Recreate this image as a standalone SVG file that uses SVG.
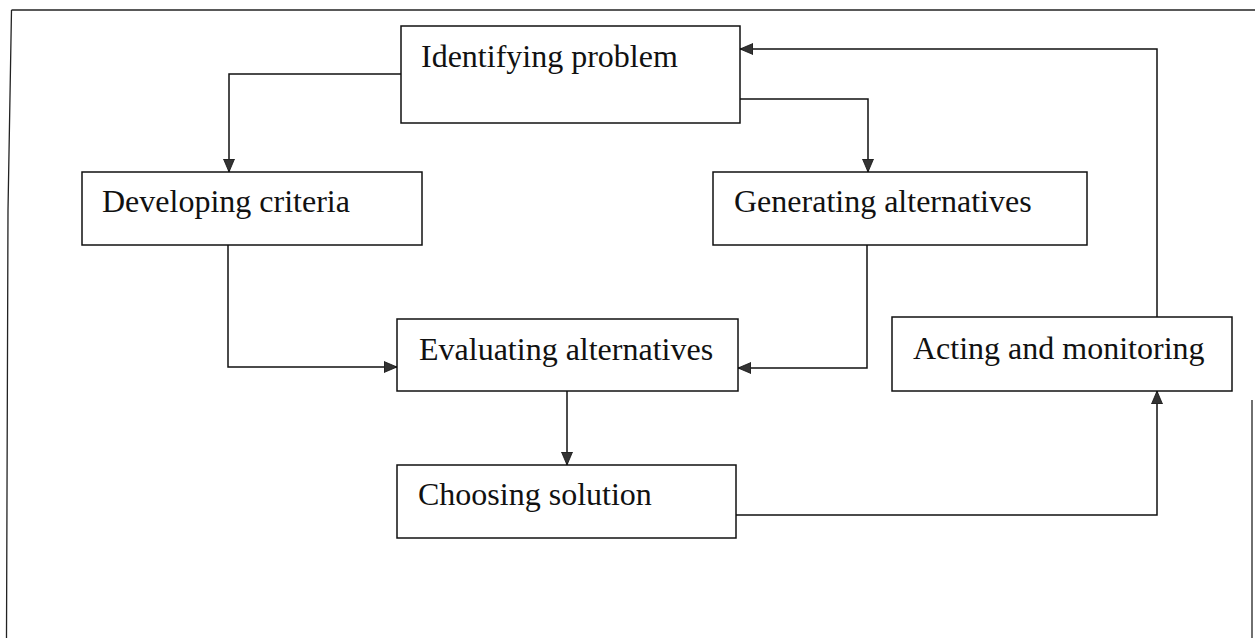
<svg xmlns="http://www.w3.org/2000/svg" width="1255" height="638" viewBox="0 0 1255 638">
<style>
.box{fill:#fff;stroke:#111;stroke-width:1.5}
.lbl{font-family:"Liberation Serif","Times New Roman",serif;font-size:32px;fill:#111}
.con{fill:none;stroke:#111;stroke-width:1.5}
.frame{fill:none;stroke:#222;stroke-width:1.3}
</style>
<defs>
<marker id="ah" markerUnits="userSpaceOnUse" markerWidth="14" markerHeight="12" refX="13" refY="6" orient="auto">
<path d="M0,0.5 L13,6 L0,11.5 z" fill="#333" stroke="#111" stroke-width="0.8"/>
</marker>
</defs>
<rect width="1255" height="638" fill="#fff"/>
<g id="frame">
<path class="frame" d="M11.5,10 L8,210 L6.5,638"/>
<path class="frame" d="M11.5,10 H1255"/>
<path class="frame" d="M1252,400 V638"/>
</g>
<g id="connectors">
<path class="con" d="M401,74 H229 V172" marker-end="url(#ah)"/>
<path class="con" d="M740,99 H868 V172" marker-end="url(#ah)"/>
<path class="con" d="M228,245 V367 H397" marker-end="url(#ah)"/>
<path class="con" d="M867,245 V368 H738" marker-end="url(#ah)"/>
<path class="con" d="M567,391 V465" marker-end="url(#ah)"/>
<path class="con" d="M736,515 H1157 V391" marker-end="url(#ah)"/>
<path class="con" d="M1157,317 V49 H740" marker-end="url(#ah)"/>
</g>
<g id="identifying">
<rect class="box" x="401" y="26" width="339" height="97"/>
<text class="lbl" x="421" y="67">Identifying problem</text>
</g>
<g id="developing">
<rect class="box" x="82" y="172" width="340" height="73"/>
<text class="lbl" x="102" y="212">Developing criteria</text>
</g>
<g id="generating">
<rect class="box" x="713" y="172" width="374" height="73"/>
<text class="lbl" x="734" y="212">Generating alternatives</text>
</g>
<g id="evaluating">
<rect class="box" x="397" y="319" width="341" height="72"/>
<text class="lbl" x="419" y="360">Evaluating alternatives</text>
</g>
<g id="acting">
<rect class="box" x="892" y="317" width="340" height="74"/>
<text class="lbl" x="913" y="359">Acting and monitoring</text>
</g>
<g id="choosing">
<rect class="box" x="397" y="465" width="339" height="73"/>
<text class="lbl" x="418" y="505">Choosing solution</text>
</g>
</svg>
